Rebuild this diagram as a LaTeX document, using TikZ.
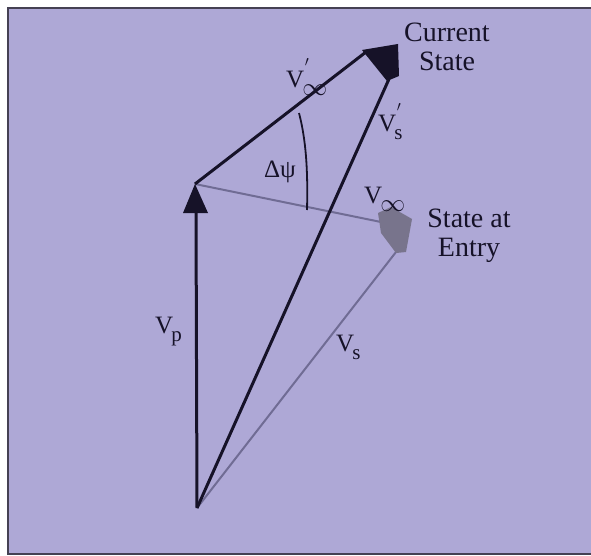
\documentclass[tikz,border=0pt]{standalone}
\usepackage{fontspec}
\setmainfont{Liberation Serif}
\newfontfamily\tnr{Liberation Serif}
\definecolor{bgl}{RGB}{174,168,214}
\definecolor{ink}{RGB}{22,18,40}
\definecolor{greyline}{RGB}{112,108,148}
\definecolor{greyhead}{RGB}{120,116,140}
\newcommand\subsz{\fontsize{21}{21}\selectfont}
\newcommand\infsym{{\fontsize{27}{27}\selectfont$\infty$}}
\newcommand\vsb[1]{V\kern-0.08em\raisebox{-0.32em}{\subsz #1}}
\newcommand\vsbp[1]{V\kern-0.08em\rlap{\kern0.1em\raisebox{0.5em}{\subsz$'$}}\raisebox{-0.32em}{\subsz #1}}
\tikzset{
  blackvec/.style={draw=ink, line width=3pt},
  greyvec/.style={draw=greyline, line width=2pt},
  statelbl/.style={font=\tnr\fontsize{28}{29}\selectfont, text=ink, align=center, inner sep=0pt},
  veclbl/.style={font=\tnr\fontsize{25}{25}\selectfont, text=ink, inner sep=0pt},
}
\begin{document}
\begin{tikzpicture}[x=1pt,y=-1pt]
\useasboundingbox (0,0) rectangle (591,556);
\fill[white] (0,0) rectangle (591,556);
\filldraw[fill=bgl, draw=ink!80, line width=1.5pt] (8,8) rectangle (594,554);

\coordinate (O) at (197,508);
\coordinate (P) at (195,184);
\coordinate (Pb) at (196,212);
\coordinate (C) at (366,52);
\coordinate (Cb) at (389,79);
\coordinate (E) at (381,222);
\coordinate (Eb) at (396,252);

% grey vectors (state at entry)
\draw[greyvec] (P) -- (E);
\draw[greyvec] (O) -- (Eb);
\fill[greyhead] (378,213) -- (391,207) -- (412,219) -- (406,252) -- (396,253) -- (381,233) -- cycle;

% black vectors
\draw[blackvec] (O) -- (Pb);
\fill[ink] (P) -- (208,213) -- (183,213) -- cycle;
\draw[blackvec] (P) -- (C);
\draw[blackvec] (O) -- (Cb);
\fill[ink] (362,50) -- (398,44) -- (399,76) -- (387,81) -- cycle;

% angle arc
\coordinate (A1) at (299,113);
\coordinate (A2) at (307,210);
\draw[draw=ink, line width=1.8pt] (A1) .. controls (306,140) and (308,170) .. (A2);

% labels
\node[statelbl] (cur) at (447,47) {Current\\State};
\node[statelbl] (ent) at (469,236) {State at\\Entry};
\node[veclbl, anchor=west] (vinfp) at (286,77) {\vsbp{\infsym}};
\node[veclbl, anchor=west] (vsp) at (378,122) {\vsbp{s}};
\node[veclbl] (dpsi) at (280,172) {Δψ};
\node[veclbl, anchor=west] (vinf) at (364,199) {\vsb{\infsym}};
\node[veclbl, anchor=west] (vp) at (155,332) {\vsb{p}};
\node[veclbl, anchor=west] (vs) at (336,347) {\vsb{s}};
\end{tikzpicture}
\end{document}
